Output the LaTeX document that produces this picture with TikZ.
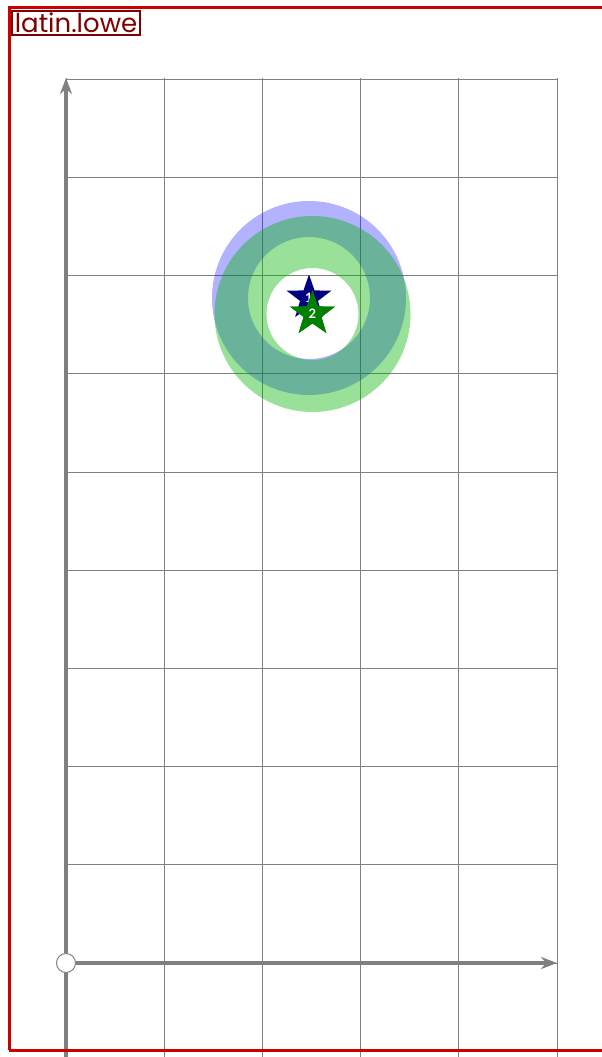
\documentclass[tikz,border=0pt]{standalone}
\usepackage{fontspec}
\setsansfont{Lato}
\newfontfamily\tagfont{Poppins}
\usepackage{tikz}
\usetikzlibrary{arrows.meta,positioning,shapes.geometric}
\definecolor{frame}{RGB}{204,0,0}
\definecolor{tagred}{RGB}{128,0,0}
\definecolor{axisgray}{RGB}{128,128,128}
\definecolor{ringgreen}{RGB}{0,180,0}
\begin{document}
\begin{tikzpicture}[x=1pt, y=-1pt,
gridline/.style={draw=axisgray, line width=0.9pt},
axisline/.style={draw=axisgray, line width=4pt},
starmark/.style={star, star points=5, star point ratio=2.5, minimum size=47pt, inner sep=0pt, text=white, font=\sffamily\bfseries\fontsize{13}{13}\selectfont},
ring/.style={line width=#1}]
\useasboundingbox (0,0) rectangle (602,1057);
\fill[white] (0,0) rectangle (602,1057);
\foreach \i in {0,...,5} \draw[gridline] (66+98.2*\i,78) -- (66+98.2*\i,1057);
\foreach \j in {0,...,9} \draw[gridline] (66,963-98.2*\j) -- (557,963-98.2*\j);
\node[circle, draw=axisgray, fill=white, line width=1pt, minimum size=19pt, inner sep=0pt] (o) at (66,963) {};
\coordinate (ybot) at (66,1057);
\coordinate (ytop) at (66,78);
\coordinate (xend) at (557,963);
\draw[axisline] (ybot) -- (o.south);
\draw[axisline, -{Stealth[length=16pt, width=12pt]}] (o.north) -- (ytop);
\draw[axisline, -{Stealth[length=16pt, width=12pt]}] (o.east) -- (xend);
\node[starmark, fill=blue!50!black] (s1) at (309,298) {1};
\draw[ring=36pt, draw=blue, draw opacity=0.3] (s1.center) circle[radius=79];
\node[starmark, fill=green!50!black] (s2) at (312.5,314) {2};
\draw[ring=52pt, draw=ringgreen, draw opacity=0.4] (s2.center) circle[radius=72];
\node[starmark, fill=green!50!black] at (s2) {2};
\draw[draw=frame, line width=3pt] (9,1050) -- (9,8) -- (610,8);
\draw[draw=frame, line width=3pt] (9,1050) -- (610,1050);
\node[draw=tagred, fill=white, line width=1.6pt, text=tagred, font=\tagfont\fontsize{26}{26}\selectfont, inner xsep=3pt, inner ysep=2pt, anchor=north west] (tag) at (11,10) {latin.lowe};
\end{tikzpicture}
\end{document}
